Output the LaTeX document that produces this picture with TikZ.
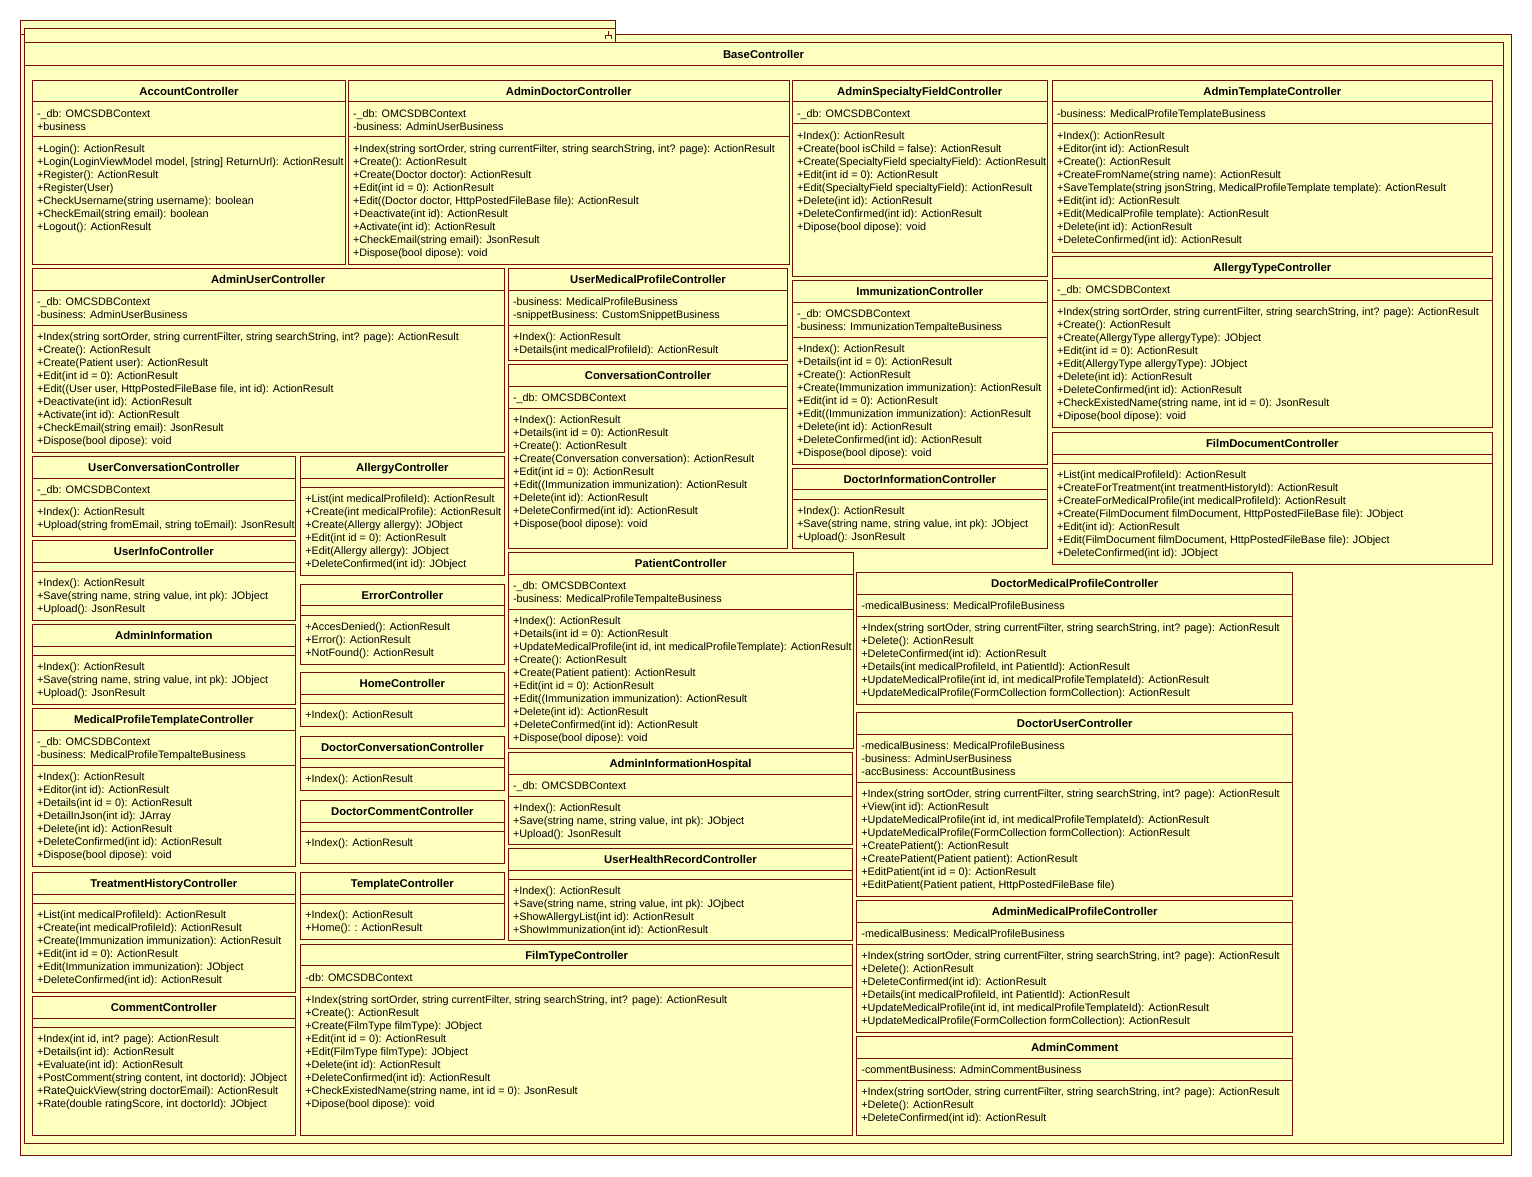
\documentclass[tikz,border=0pt]{standalone}
\usepackage{fontspec}
\setmainfont{Liberation Sans}
\definecolor{umlfill}{RGB}{255,255,192}
\definecolor{umlline}{RGB}{120,12,8}
\tikzset{
  x=1pt, y=-1pt,
  clsbox/.style={draw=umlline, fill=umlfill, line width=1pt, inner sep=0pt, outer sep=0pt},
  pkshape/.style={draw=umlline, fill=umlfill, line width=1pt},
  sepline/.style={draw=umlline, line width=1pt},
  clstitle/.style={inner sep=0pt, font=\bfseries\fontsize{11.3}{13}\selectfont, anchor=base},
  clstext/.style={inner sep=0pt, font=\fontsize{10.8}{13}\selectfont, anchor=base west},
}
% #1 name, #2 x1, #3 y1, #4 x2, #5 y2, #6 title, #7 nattr, #8 attrs, #9 ops
\newcommand\umlcls[9]{%
  \pgfmathsetmacro\cw{#4-#2}%
  \pgfmathsetmacro\ch{#5-#3}%
  \pgfmathsetmacro\hy{#3+21.5}%
  \pgfmathsetmacro\ay{ifthenelse(#7==0,\hy+9.5,\hy+13*#7+9)}%
  \node[clsbox, minimum width=\cw pt, minimum height=\ch pt, anchor=north west] (#1) at (#2,#3) {};
  \node[clstitle] (#1-t) at ({(#2+#4)/2},{#3+15}) {#6};
  \draw[sepline] (#2,\hy) -- (#4,\hy);
  \draw[sepline] (#2,\ay) -- (#4,\ay);
  \ifnum#7>0
    \foreach \t [count=\i] in {#8} {\node[clstext] (#1-a\i) at ({#2+4.5},{\hy+15.2+13*(\i-1)}) {\t};}
  \fi
  \foreach \t [count=\i] in {#9} {\node[clstext] (#1-o\i) at ({#2+4.5},{\ay+15.2+13*(\i-1)}) {\t};}
}
\begin{document}
\begin{tikzpicture}
\useasboundingbox (0,0) rectangle (1532,1176);
\fill[white] (0,0) rectangle (1532,1176);
% package frames
\draw[pkshape] (20,20.7) rectangle (615.3,34);
\draw[pkshape] (20,34) rectangle (1511.7,1155);
\draw[pkshape] (24.3,28.3) rectangle (615.3,42.3);
\draw[pkshape] (24.3,42.3) rectangle (1503,1143);
\draw[sepline] (24.3,65) -- (1503,65);
\draw[umlline, line width=0.9pt] (608.3,30.7) -- (608.3,35.3) (605.3,39.3) -- (605.3,35.3) -- (611.3,35.3) -- (611.3,39.3);
\node[clstitle] (base) at (763.5,58.5) {BaseController};

\umlcls{acc}{32.3}{80.3}{345.7}{264}{AccountController}{2}
 {{-\_db: OMCSDBContext},{+business}}
 {{+Login(): ActionResult},{+Login(LoginViewModel model, [string] ReturnUrl): ActionResult},{+Register(): ActionResult},{+Register(User)},{+CheckUsername(string username): boolean},{+CheckEmail(string email): boolean},{+Logout(): ActionResult}}

\umlcls{adoc}{348.3}{80.3}{789}{264}{AdminDoctorController}{2}
 {{-\_db: OMCSDBContext},{-business: AdminUserBusiness}}
 {{+Index(string sortOrder, string currentFilter, string searchString, int? page): ActionResult},{+Create(): ActionResult},{+Create(Doctor doctor): ActionResult},{+Edit(int id = 0): ActionResult},{+Edit((Doctor doctor, HttpPostedFileBase file): ActionResult},{+Deactivate(int id): ActionResult},{+Activate(int id): ActionResult},{+CheckEmail(string email): JsonResult},{+Dispose(bool dipose): void}}

\umlcls{aspec}{792.3}{80.3}{1047.3}{276}{AdminSpecialtyFieldController}{1}
 {{-\_db: OMCSDBContext}}
 {{+Index(): ActionResult},{+Create(bool isChild = false): ActionResult},{+Create(SpecialtyField specialtyField): ActionResult},{+Edit(int id = 0): ActionResult},{+Edit(SpecialtyField specialtyField): ActionResult},{+Delete(int id): ActionResult},{+DeleteConfirmed(int id): ActionResult},{+Dipose(bool dipose): void}}

\umlcls{atmpl}{1052.3}{80.3}{1492.3}{252}{AdminTemplateController}{1}
 {{-business: MedicalProfileTemplateBusiness}}
 {{+Index(): ActionResult},{+Editor(int id): ActionResult},{+Create(): ActionResult},{+CreateFromName(string name): ActionResult},{+SaveTemplate(string jsonString, MedicalProfileTemplate template): ActionResult},{+Edit(int id): ActionResult},{+Edit(MedicalProfile template): ActionResult},{+Delete(int id): ActionResult},{+DeleteConfirmed(int id): ActionResult}}

\umlcls{auser}{32.3}{268.7}{504}{452}{AdminUserController}{2}
 {{-\_db: OMCSDBContext},{-business: AdminUserBusiness}}
 {{+Index(string sortOrder, string currentFilter, string searchString, int? page): ActionResult},{+Create(): ActionResult},{+Create(Patient user): ActionResult},{+Edit(int id = 0): ActionResult},{+Edit((User user, HttpPostedFileBase file, int id): ActionResult},{+Deactivate(int id): ActionResult},{+Activate(int id): ActionResult},{+CheckEmail(string email): JsonResult},{+Dispose(bool dipose): void}}

\umlcls{umed}{508.3}{268.7}{787.7}{360.5}{UserMedicalProfileController}{2}
 {{-business: MedicalProfileBusiness},{-snippetBusiness: CustomSnippetBusiness}}
 {{+Index(): ActionResult},{+Details(int medicalProfileId): ActionResult}}

\umlcls{conv}{508.3}{364.7}{787.7}{548.3}{ConversationController}{1}
 {{-\_db: OMCSDBContext}}
 {{+Index(): ActionResult},{+Details(int id = 0): ActionResult},{+Create(): ActionResult},{+Create(Conversation conversation): ActionResult},{+Edit(int id = 0): ActionResult},{+Edit((Immunization immunization): ActionResult},{+Delete(int id): ActionResult},{+DeleteConfirmed(int id): ActionResult},{+Dispose(bool dipose): void}}

\umlcls{immu}{792.3}{280.7}{1047.3}{464}{ImmunizationController}{2}
 {{-\_db: OMCSDBContext},{-business: ImmunizationTempalteBusiness}}
 {{+Index(): ActionResult},{+Details(int id = 0): ActionResult},{+Create(): ActionResult},{+Create(Immunization immunization): ActionResult},{+Edit(int id = 0): ActionResult},{+Edit((Immunization immunization): ActionResult},{+Delete(int id): ActionResult},{+DeleteConfirmed(int id): ActionResult},{+Dispose(bool dipose): void}}

\umlcls{dinfo}{792.3}{468.3}{1047.3}{548.3}{DoctorInformationController}{0}{}
 {{+Index(): ActionResult},{+Save(string name, string value, int pk): JObject},{+Upload(): JsonResult}}

\umlcls{atype}{1052.3}{256.7}{1492.3}{427}{AllergyTypeController}{1}
 {{-\_db: OMCSDBContext}}
 {{+Index(string sortOrder, string currentFilter, string searchString, int? page): ActionResult},{+Create(): ActionResult},{+Create(AllergyType allergyType): JObject},{+Edit(int id = 0): ActionResult},{+Edit(AllergyType allergyType): JObject},{+Delete(int id): ActionResult},{+DeleteConfirmed(int id): ActionResult},{+CheckExistedName(string name, int id = 0): JsonResult},{+Dipose(bool dipose): void}}

\umlcls{fdoc}{1052.3}{432.7}{1492.3}{564}{FilmDocumentController}{0}{}
 {{+List(int medicalProfileId): ActionResult},{+CreateForTreatment(int treatmentHistoryId): ActionResult},{+CreateForMedicalProfile(int medicalProfileId): ActionResult},{+Create(FilmDocument filmDocument, HttpPostedFileBase file): JObject},{+Edit(int id): ActionResult},{+Edit(FilmDocument filmDocument, HttpPostedFileBase file): JObject},{+DeleteConfirmed(int id): JObject}}

\umlcls{uconv}{32.3}{456.7}{295.3}{536.3}{UserConversationController}{1}
 {{-\_db: OMCSDBContext}}
 {{+Index(): ActionResult},{+Upload(string fromEmail, string toEmail): JsonResult}}

\umlcls{uinfo}{32.3}{540.7}{295.3}{620.3}{UserInfoController}{0}{}
 {{+Index(): ActionResult},{+Save(string name, string value, int pk): JObject},{+Upload(): JsonResult}}

\umlcls{ainfo}{32.3}{624.7}{295.3}{704.3}{AdminInformation}{0}{}
 {{+Index(): ActionResult},{+Save(string name, string value, int pk): JObject},{+Upload(): JsonResult}}

\umlcls{mptc}{32.3}{708.7}{295.3}{866.7}{MedicalProfileTemplateController}{2}
 {{-\_db: OMCSDBContext},{-business: MedicalProfileTempalteBusiness}}
 {{+Index(): ActionResult},{+Editor(int id): ActionResult},{+Details(int id = 0): ActionResult},{+DetailInJson(int id): JArray},{+Delete(int id): ActionResult},{+DeleteConfirmed(int id): ActionResult},{+Dispose(bool dipose): void}}

\umlcls{treat}{32.3}{872.7}{295.3}{992.3}{TreatmentHistoryController}{0}{}
 {{+List(int medicalProfileId): ActionResult},{+Create(int medicalProfileId): ActionResult},{+Create(Immunization immunization): ActionResult},{+Edit(int id = 0): ActionResult},{+Edit(Immunization immunization): JObject},{+DeleteConfirmed(int id): ActionResult}}

\umlcls{comm}{32.3}{996.7}{295.3}{1135.7}{CommentController}{0}{}
 {{+Index(int id, int? page): ActionResult},{+Details(int id): ActionResult},{+Evaluate(int id): ActionResult},{+PostComment(string content, int doctorId): JObject},{+RateQuickView(string doctorEmail): ActionResult},{+Rate(double ratingScore, int doctorId): JObject}}

\umlcls{allergy}{300.7}{456.7}{504}{575}{AllergyController}{0}{}
 {{+List(int medicalProfileId): ActionResult},{+Create(int medicalProfile): ActionResult},{+Create(Allergy allergy): JObject},{+Edit(int id = 0): ActionResult},{+Edit(Allergy allergy): JObject},{+DeleteConfirmed(int id): JObject}}

\umlcls{err}{300.7}{584.3}{504}{664}{ErrorController}{0}{}
 {{+AccesDenied(): ActionResult},{+Error(): ActionResult},{+NotFound(): ActionResult}}

\umlcls{home}{300.7}{672.7}{504}{726}{HomeController}{0}{}
 {{+Index(): ActionResult}}

\umlcls{dconv}{300.7}{736.7}{504}{790}{DoctorConversationController}{0}{}
 {{+Index(): ActionResult}}

\umlcls{dcomm}{300.7}{800.7}{504}{863.3}{DoctorCommentController}{0}{}
 {{+Index(): ActionResult}}

\umlcls{tmpl}{300.7}{872.7}{504}{939.3}{TemplateController}{0}{}
 {{+Index(): ActionResult},{+Home(): : ActionResult}}

\umlcls{ftype}{300.7}{944.3}{852.7}{1135.7}{FilmTypeController}{1}
 {{-db: OMCSDBContext}}
 {{+Index(string sortOrder, string currentFilter, string searchString, int? page): ActionResult},{+Create(): ActionResult},{+Create(FilmType filmType): JObject},{+Edit(int id = 0): ActionResult},{+Edit(FilmType filmType): JObject},{+Delete(int id): ActionResult},{+DeleteConfirmed(int id): ActionResult},{+CheckExistedName(string name, int id = 0): JsonResult},{+Dipose(bool dipose): void}}

\umlcls{patient}{508.3}{552.7}{853.3}{748}{PatientController}{2}
 {{-\_db: OMCSDBContext},{-business: MedicalProfileTempalteBusiness}}
 {{+Index(): ActionResult},{+Details(int id = 0): ActionResult},{+UpdateMedicalProfile(int id, int medicalProfileTemplate): ActionResult},{+Create(): ActionResult},{+Create(Patient patient): ActionResult},{+Edit(int id = 0): ActionResult},{+Edit((Immunization immunization): ActionResult},{+Delete(int id): ActionResult},{+DeleteConfirmed(int id): ActionResult},{+Dispose(bool dipose): void}}

\umlcls{aih}{508.3}{752.7}{852.7}{844.3}{AdminInformationHospital}{1}
 {{-\_db: OMCSDBContext}}
 {{+Index(): ActionResult},{+Save(string name, string value, int pk): JObject},{+Upload(): JsonResult}}

\umlcls{uhr}{508.3}{848.7}{852.7}{940}{UserHealthRecordController}{0}{}
 {{+Index(): ActionResult},{+Save(string name, string value, int pk): JOjbect},{+ShowAllergyList(int id): ActionResult},{+ShowImmunization(int id): ActionResult}}

\umlcls{dmp}{856.7}{572.7}{1292.7}{704.3}{DoctorMedicalProfileController}{1}
 {{-medicalBusiness: MedicalProfileBusiness}}
 {{+Index(string sortOder, string currentFilter, string searchString, int? page): ActionResult},{+Delete(): ActionResult},{+DeleteConfirmed(int id): ActionResult},{+Details(int medicalProfileId, int PatientId): ActionResult},{+UpdateMedicalProfile(int id, int medicalProfileTemplateId): ActionResult},{+UpdateMedicalProfile(FormCollection formCollection): ActionResult}}

\umlcls{duser}{856.7}{712.7}{1292.7}{896}{DoctorUserController}{3}
 {{-medicalBusiness: MedicalProfileBusiness},{-business: AdminUserBusiness},{-accBusiness: AccountBusiness}}
 {{+Index(string sortOder, string currentFilter, string searchString, int? page): ActionResult},{+View(int id): ActionResult},{+UpdateMedicalProfile(int id, int medicalProfileTemplateId): ActionResult},{+UpdateMedicalProfile(FormCollection formCollection): ActionResult},{+CreatePatient(): ActionResult},{+CreatePatient(Patient patient): ActionResult},{+EditPatient(int id = 0): ActionResult},{+EditPatient(Patient patient, HttpPostedFileBase file)}}

\umlcls{amp}{856.7}{900.7}{1292.7}{1032}{AdminMedicalProfileController}{1}
 {{-medicalBusiness: MedicalProfileBusiness}}
 {{+Index(string sortOder, string currentFilter, string searchString, int? page): ActionResult},{+Delete(): ActionResult},{+DeleteConfirmed(int id): ActionResult},{+Details(int medicalProfileId, int PatientId): ActionResult},{+UpdateMedicalProfile(int id, int medicalProfileTemplateId): ActionResult},{+UpdateMedicalProfile(FormCollection formCollection): ActionResult}}

\umlcls{acomm}{856.7}{1036.7}{1292.7}{1135.7}{AdminComment}{1}
 {{-commentBusiness: AdminCommentBusiness}}
 {{+Index(string sortOder, string currentFilter, string searchString, int? page): ActionResult},{+Delete(): ActionResult},{+DeleteConfirmed(int id): ActionResult}}
\end{tikzpicture}
\end{document}
